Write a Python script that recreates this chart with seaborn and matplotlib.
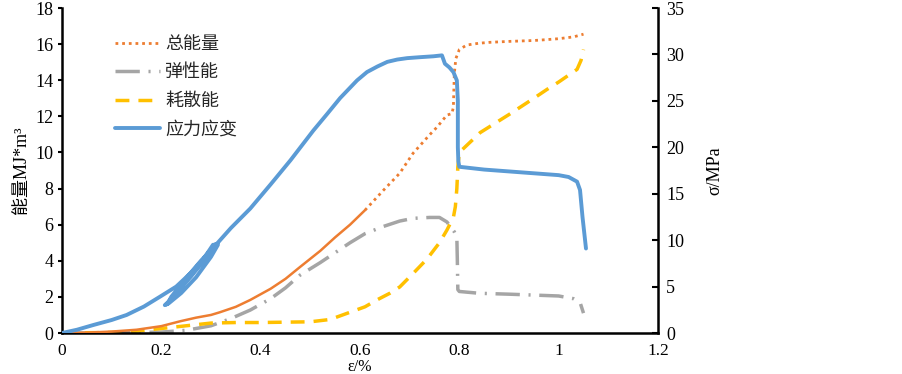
import numpy as np
import pandas as pd
import matplotlib
matplotlib.use("Agg")
import matplotlib.pyplot as plt
from matplotlib.lines import Line2D
import seaborn as sns

# ---------------- data ----------------
# total energy (MJ/m^3)
total_x = [0, 0.05, 0.1, 0.15, 0.2, 0.238, 0.27, 0.3, 0.318, 0.35, 0.379, 0.42, 0.45,
           0.479, 0.52, 0.55, 0.58, 0.61, 0.647, 0.68, 0.707, 0.741, 0.755, 0.775,
           0.785, 0.788, 0.789, 0.79, 0.793, 0.8, 0.815, 0.84, 0.862, 0.9, 0.95,
           0.977, 1.0, 1.03, 1.05]
total_e = [0, 0.02, 0.08, 0.18, 0.38, 0.65, 0.85, 1.0, 1.15, 1.45, 1.83, 2.45, 3.0,
           3.65, 4.55, 5.3, 6.0, 6.8, 7.9, 8.85, 9.96, 11.0, 11.4, 12.07,
           12.15, 12.5, 13.5, 14.4, 15.2, 15.7, 15.95, 16.05, 16.1, 16.15, 16.2,
           16.25, 16.3, 16.4, 16.55]

# elastic energy (MJ/m^3)
elastic_x = [0, 0.1, 0.2, 0.25, 0.3, 0.34, 0.379, 0.42, 0.45, 0.479, 0.52, 0.55, 0.58,
             0.61, 0.647, 0.68, 0.707, 0.74, 0.76, 0.775, 0.79, 0.795, 0.796, 0.797,
             0.8, 0.84, 0.9, 1.0, 1.03, 1.043, 1.05]
elastic_e = [0, 0.0, 0.05, 0.15, 0.4, 0.8, 1.27, 1.9, 2.5, 3.2, 3.9, 4.45, 5.0,
             5.5, 5.9, 6.2, 6.35, 6.4, 6.4, 6.15, 5.6, 5.3, 4.0, 2.4,
             2.3, 2.2, 2.15, 2.05, 1.9, 1.7, 1.1]

# dissipated energy (MJ/m^3)
dissip_x = [0, 0.1, 0.15, 0.2, 0.25, 0.3, 0.35, 0.4, 0.45, 0.5, 0.54, 0.58, 0.61,
            0.634, 0.66, 0.68, 0.707, 0.735, 0.76, 0.775, 0.788, 0.792, 0.795, 0.797,
            0.8, 0.842, 0.9, 0.95, 0.977, 1.0, 1.037, 1.045, 1.05]
dissip_e = [0, 0.03, 0.1, 0.25, 0.4, 0.55, 0.58, 0.58, 0.6, 0.62, 0.75, 1.15, 1.45,
            1.83, 2.2, 2.55, 3.3, 4.1, 5.0, 5.7, 6.4, 7.0, 8.0, 9.2,
            10.0, 11.1, 12.1, 13.0, 13.5, 13.9, 14.6, 15.1, 15.7]

# stress-strain (MPa), including unloading/reloading loops
stress_x = [0, 0.03, 0.063, 0.1, 0.13, 0.165, 0.197, 0.23, 0.258, 0.284, 0.304, 0.314,
            0.30, 0.27, 0.24, 0.215, 0.207,
            0.215, 0.24, 0.27, 0.295, 0.31,
            0.29, 0.26, 0.235, 0.212,
            0.22, 0.25, 0.28, 0.315,
            0.34, 0.379, 0.42, 0.46, 0.483, 0.506, 0.534, 0.56, 0.594, 0.614, 0.635,
            0.655, 0.675, 0.695, 0.72, 0.748, 0.765, 0.771, 0.78, 0.788, 0.795,
            0.797, 0.797, 0.798, 0.8, 0.85, 0.9, 0.95, 1.0, 1.02, 1.037, 1.043,
            1.048, 1.055]
stress_s = [0, 0.35, 0.86, 1.4, 1.94, 2.85, 3.9, 5.0, 6.4, 7.9, 9.5, 9.5,
            8.2, 6.0, 4.3, 3.2, 3.0,
            3.4, 5.0, 6.9, 8.6, 9.6,
            8.1, 6.1, 4.6, 3.1,
            3.9, 5.9, 7.8, 9.8,
            11.3, 13.4, 16.0, 18.6, 20.2, 21.8, 23.6, 25.3, 27.2, 28.1, 28.7,
            29.2, 29.45, 29.6, 29.7, 29.8, 29.9, 29.0, 28.6, 28.1, 27.2,
            25.0, 20.0, 18.5, 17.9, 17.6, 17.4, 17.2, 17.0, 16.8, 16.3, 15.4,
            12.5, 9.1]

labels = ["总能量", "弹性能", "耗散能", "应力应变"]
xticks = [0, 0.2, 0.4, 0.6, 0.8, 1.0, 1.2]
xticklabels = ["0", "0.2", "0.4", "0.6", "0.8", "1", "1.2"]
yticks_left = list(range(0, 19, 2))
yticks_right = list(range(0, 36, 5))

# ---------------- style ----------------
sns.set_theme(style="white")
plt.rcParams["font.family"] = ["Liberation Serif", "Noto Sans CJK SC"]
plt.rcParams["axes.unicode_minus"] = False

c_total = "#ED7D31"
c_elastic = "#A5A5A5"
c_dissip = "#FFC000"
c_stress = "#5B9BD5"

ls_total = (0, (1, 1.4))
ls_elastic = (0, (7, 2.5, 0.6, 2.5))
ls_dissip = (0, (4, 2.6))

fig = plt.figure(figsize=(9.03, 3.74), dpi=100)
ax = fig.add_axes([62 / 903, 41 / 374, 596 / 903, 325 / 374])
ax2 = ax.twinx()

df_t = pd.DataFrame({"x": total_x, "y": total_e})
df_e = pd.DataFrame({"x": elastic_x, "y": elastic_e})
df_d = pd.DataFrame({"x": dissip_x, "y": dissip_e})
df_s = pd.DataFrame({"x": stress_x, "y": stress_s})

# total energy: dense (solid-looking) part then dotted part
dense = df_t[df_t.x <= 0.61]
sparse = df_t[df_t.x >= 0.61]
sns.lineplot(data=dense, x="x", y="y", ax=ax, color=c_total, lw=1.8,
             sort=False, estimator=None, zorder=3)
sns.lineplot(data=sparse, x="x", y="y", ax=ax, color=c_total, lw=2.0,
             linestyle=ls_total, sort=False, estimator=None, zorder=3)
sns.lineplot(data=df_e, x="x", y="y", ax=ax, color=c_elastic, lw=2.5,
             linestyle=ls_elastic, sort=False, estimator=None, zorder=2)
sns.lineplot(data=df_d, x="x", y="y", ax=ax, color=c_dissip, lw=2.5,
             linestyle=ls_dissip, sort=False, estimator=None, zorder=2)
sns.lineplot(data=df_s, x="x", y="y", ax=ax2, color=c_stress, lw=2.8,
             sort=False, estimator=None, zorder=4)

# axes limits / ticks
ax.set_xlim(0, 1.2)
ax.set_ylim(0, 18)
ax2.set_ylim(0, 35)
ax.set_xticks(xticks)
ax.set_xticklabels(xticklabels)
ax.set_yticks(yticks_left)
ax2.set_yticks(yticks_right)

for a in (ax, ax2):
    for s in a.spines.values():
        s.set_visible(False)
ax.spines["left"].set_visible(True)
ax.spines["bottom"].set_visible(True)
ax2.spines["right"].set_visible(True)
for s in (ax.spines["left"], ax.spines["bottom"], ax2.spines["right"]):
    s.set_color("black")
    s.set_linewidth(1.8)

ax.tick_params(axis="x", which="both", bottom=False, labelsize=12.5, pad=1,
               colors="black")
ax.tick_params(axis="y", direction="out", length=3, width=1.5, labelsize=13,
               pad=3, left=True, colors="black")
ax2.tick_params(axis="y", direction="in", length=4, width=1.5, labelsize=13,
                pad=6, right=True, colors="black")

ax.set_xlabel("ε/%", fontsize=11.5, labelpad=0, color="black")
ax.set_ylabel("能量MJ*m³", fontsize=13, labelpad=4, color="black")
ax2.set_ylabel("σ/MPa", fontsize=13, labelpad=16, color="black")
ax.grid(False)
ax2.grid(False)

handles = [
    Line2D([0], [0], color=c_total, lw=2.0, linestyle=ls_total),
    Line2D([0], [0], color=c_elastic, lw=2.5, linestyle=ls_elastic),
    Line2D([0], [0], color=c_dissip, lw=2.5, linestyle=ls_dissip),
    Line2D([0], [0], color=c_stress, lw=2.8),
]
leg = ax2.legend(handles, labels, loc="upper left", bbox_to_anchor=(0.073, 0.945),
                 frameon=False, borderpad=0, handlelength=2.5, handletextpad=0.3,
                 labelspacing=0.58, prop={"family": ["Noto Sans CJK SC"], "size": 13})

fig.savefig("out.png", dpi=100)
